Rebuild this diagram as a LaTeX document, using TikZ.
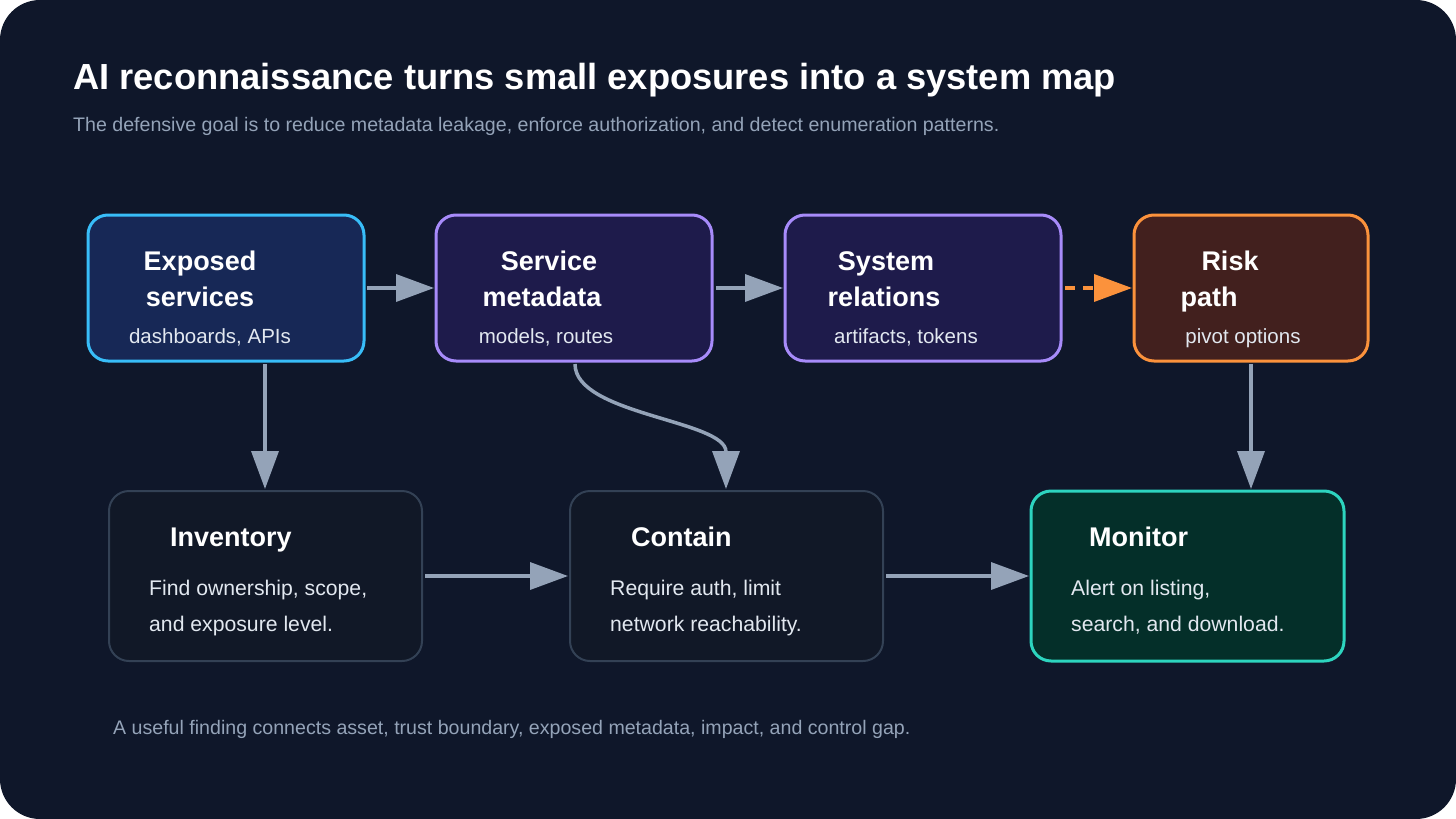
\documentclass[tikz,border=0pt]{standalone}
\usepackage{fontspec}
\setmainfont{Liberation Sans}
\usetikzlibrary{arrows.meta}
\definecolor{bg}{HTML}{0F172A}
\definecolor{gr}{HTML}{94A3B8}
\definecolor{tx}{HTML}{E2E8F0}
\begin{document}
\begin{tikzpicture}[x=1pt,y=-1pt,
  box/.style={draw,line width=3pt,rounded corners=20pt},
  ttl/.style={text=white,font=\fontsize{27}{30}\selectfont\bfseries,inner sep=0pt,anchor=base},
  sub/.style={text=tx,font=\fontsize{20.5}{24}\selectfont,inner sep=0pt,anchor=base},
  body/.style={text=tx,font=\fontsize{21.2}{24}\selectfont,inner sep=0pt,anchor=base west},
  arr/.style={draw=gr,line width=3.5pt,-{Triangle[length=38pt,width=27pt]}}]
\useasboundingbox (0,0) rectangle (1456,819);
\fill[white] (0,0) rectangle (1456,819);
\fill[bg,rounded corners=40pt] (0,0) rectangle (1456,819);
\node[anchor=base west,inner sep=0pt,text=white,font=\fontsize{36.3}{40}\selectfont\bfseries] (title) at (73,89) {AI reconnaissance turns small exposures into a system map};
\node[anchor=base west,inner sep=0pt,text=gr,font=\fontsize{19.6}{22}\selectfont] (subt) at (73,131) {The defensive goal is to reduce metadata leakage, enforce authorization, and detect enumeration patterns.};
% top boxes
\draw[box,draw={rgb,255:red,56;green,189;blue,248},fill={rgb,255:red,23;green,40;blue,86}] (88,215) rectangle (364,361);
\draw[box,draw={rgb,255:red,167;green,139;blue,250},fill={rgb,255:red,30;green,27;blue,75}] (436,215) rectangle (712,361);
\draw[box,draw={rgb,255:red,167;green,139;blue,250},fill={rgb,255:red,30;green,27;blue,75}] (785,215) rectangle (1061,361);
\draw[box,draw={rgb,255:red,251;green,146;blue,60},fill={rgb,255:red,66;green,32;blue,30}] (1134,215) rectangle (1368,361);
% bottom boxes
\draw[box,line width=2pt,draw={rgb,255:red,51;green,65;blue,85},fill={rgb,255:red,17;green,24;blue,39}] (109,491) rectangle (422,661);
\draw[box,line width=2pt,draw={rgb,255:red,51;green,65;blue,85},fill={rgb,255:red,17;green,24;blue,39}] (570,491) rectangle (883,661);
\draw[box,draw={rgb,255:red,45;green,212;blue,191},fill={rgb,255:red,4;green,47;blue,41}] (1031,491) rectangle (1344,661);
% texts
\node[ttl] (t1a) at (200,270) {Exposed};
\node[ttl] (t1b) at (200,306) {services};
\node[sub] (s1) at (210,343) {dashboards, APIs};
\node[ttl] (t2a) at (549,270) {Service};
\node[ttl] (t2b) at (542,306) {metadata};
\node[sub] (s2) at (546,343) {models, routes};
\node[ttl] (t3a) at (886,270) {System};
\node[ttl] (t3b) at (884,306) {relations};
\node[sub] (s3) at (906,343) {artifacts, tokens};
\node[ttl] (t4a) at (1230,270) {Risk};
\node[ttl] (t4b) at (1209,306) {path};
\node[sub] (s4) at (1243,343) {pivot options};
\node[ttl,anchor=base west] (t5) at (170,546) {Inventory};
\node[body] (b5a) at (149,595) {Find ownership, scope,};
\node[body] (b5b) at (149,631) {and exposure level.};
\node[ttl,anchor=base west] (t6) at (631,546) {Contain};
\node[body] (b6a) at (610,595) {Require auth, limit};
\node[body] (b6b) at (610,631) {network reachability.};
\node[ttl,anchor=base west] (t7) at (1089,546) {Monitor};
\node[body] (b7a) at (1071,595) {Alert on listing,};
\node[body] (b7b) at (1071,631) {search, and download.};
\node[anchor=base west,inner sep=0pt,text=gr,font=\fontsize{19.6}{22}\selectfont] (foot) at (113,734) {A useful finding connects asset, trust boundary, exposed metadata, impact, and control gap.};
% arrow endpoints
\coordinate (a1s) at (367,288); \coordinate (a1e) at (434,288);
\coordinate (a2s) at (716,288); \coordinate (a2e) at (783,288);
\coordinate (a3s) at (1065,288); \coordinate (a3e) at (1132,288);
\coordinate (v1s) at (265,364); \coordinate (v1e) at (265,489);
\coordinate (v2s) at (1251,364); \coordinate (v2e) at (1251,489);
\coordinate (cs) at (575,364); \coordinate (ce) at (726,489);
\coordinate (h1s) at (425,576); \coordinate (h1e) at (568,576);
\coordinate (h2s) at (886,576); \coordinate (h2e) at (1029,576);
\draw[arr] (a1s) -- (a1e);
\draw[arr] (a2s) -- (a2e);
\draw[arr,draw={rgb,255:red,251;green,146;blue,60},dash pattern=on 10pt off 8pt] (a3s) -- (a3e);
\draw[arr] (v1s) -- (v1e);
\draw[arr] (v2s) -- (v2e);
\draw[arr] (cs) .. controls (575,415) and (726,420) .. (ce);
\draw[arr] (h1s) -- (h1e);
\draw[arr] (h2s) -- (h2e);
\end{tikzpicture}
\end{document}
